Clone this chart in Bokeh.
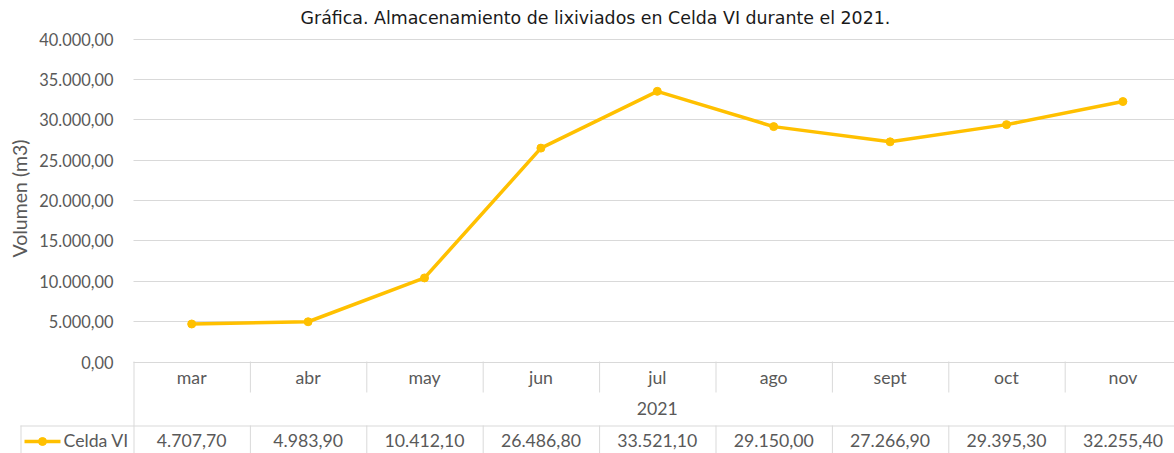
import math
from bokeh.plotting import figure
from bokeh.models import Range1d, FixedTicker, CustomJSTickFormatter, ColumnDataSource
from bokeh.core.properties import value
from bokeh.embed import file_html
from bokeh.resources import INLINE

# ---------------- data ----------------
months = ["mar", "abr", "may", "jun", "jul", "ago", "sept", "oct", "nov"]
volumes = [4707.70, 4983.90, 10412.10, 26486.80, 33521.10, 29150.00, 27266.90, 29395.30, 32255.40]
year_label = "2021"
series_name = "Celda VI"
y_ticks = [0, 5000, 10000, 15000, 20000, 25000, 30000, 35000, 40000]
title_text = "Gráfica. Almacenamiento de lixiviados en Celda VI durante el 2021."
y_label = "Volumen (m3)"

# ---------------- style / geometry ----------------
GOLD = "#FFC000"
GRID = "#D9D9D9"
TXT = "#595959"
FONT = "Lato"
W, H = 1174, 453
CW = 116.4            # px per category
X0 = 133              # canvas px of the first category boundary
ZERO_PX = 361.5       # canvas px of value 0
TOP_PX = 38.5         # canvas px of value 40000
U = 40000 / (ZERO_PX - TOP_PX)   # data units per px (vertical)


def X(px):
    return (px - X0) / CW


def Y(px):
    return (ZERO_PX - px) * U


def fmt(v):
    s = f"{v:,.2f}"
    return s.replace(",", "X").replace(".", ",").replace("X", ".")


n = len(months)
xs = [i + 0.5 for i in range(n)]
src = ColumnDataSource(dict(x=xs, v=volumes, m=months, lab=[fmt(v) for v in volumes]))

x_end = X(W)
p = figure(width=W, height=H, output_backend="svg", toolbar_location=None,
           x_range=Range1d(X(0), x_end), y_range=Range1d(Y(H), Y(0)),
           x_axis_location=None, min_border=0, min_border_left=0, min_border_right=0,
           min_border_top=0, min_border_bottom=0)
p.outline_line_color = None
p.xgrid.visible = False

ax = p.yaxis[0]
ax.fixed_location = 0
ax.ticker = FixedTicker(ticks=y_ticks)
ax.formatter = CustomJSTickFormatter(code="""
const s = tick.toFixed(2);
const parts = s.split('.');
return parts[0].replace(/\\B(?=(\\d{3})+(?!\\d))/g, '.') + ',' + parts[1];
""")
ax.axis_line_color = None
ax.major_tick_line_color = None
ax.minor_tick_line_color = None
ax.major_tick_out = 0
ax.major_tick_in = 0
ax.major_label_standoff = 20
ax.major_label_text_font = FONT
ax.major_label_text_font_size = "16.4px"
ax.major_label_text_color = TXT

p.ygrid.grid_line_color = GRID
p.ygrid.grid_line_width = 1
p.ygrid.cross_bounds = (0, x_end)

# title and axis title
p.text(x=[X(300)], y=[Y(17)], text=[title_text], text_align="left", text_baseline="middle",
       text_font=value("DejaVu Sans"), text_font_size="17.4px", text_color="#1A1A1A")
p.text(x=[X(19)], y=[Y(198)], text=[y_label], angle=math.pi / 2, text_align="center",
       text_baseline="middle", text_font=value(FONT), text_font_size="19.5px", text_color=TXT)

# series
p.line("x", "v", source=src, line_color=GOLD, line_width=3.5, line_join="round")
p.scatter("x", "v", source=src, size=8, fill_color=GOLD, line_color=GOLD)

# ---------------- data table under the plot ----------------
half = 0.5 / CW
# horizontal rule above the value row
p.segment(x0=[X(20)], y0=[Y(425.5)], x1=[x_end], y1=[Y(425.5)], line_color=GRID, line_width=1)
# vertical rules
p.segment(x0=[half, X(20.5)], y0=[Y(361), Y(425)], x1=[half, X(20.5)], y1=[Y(H), Y(H)],
          line_color=GRID, line_width=1)
bx = [k + half for k in range(1, n)]
p.segment(x0=bx, y0=[Y(361)] * (n - 1), x1=bx, y1=[Y(392)] * (n - 1), line_color=GRID, line_width=1)
p.segment(x0=bx, y0=[Y(425)] * (n - 1), x1=bx, y1=[Y(H)] * (n - 1), line_color=GRID, line_width=1)

p.text(x="x", y=Y(377), text="m", source=src, text_align="center", text_baseline="middle",
       text_font=value(FONT), text_font_size="17.7px", text_color=TXT)
p.text(x=[(n - 1) / 2 + 0.5], y=[Y(408)], text=[year_label], text_align="center",
       text_baseline="middle", text_font=value(FONT), text_font_size="17.7px", text_color=TXT)
p.text(x="x", y=Y(440), text="lab", source=src, text_align="center", text_baseline="middle",
       text_font=value(FONT), text_font_size="17.7px", text_color=TXT)

# legend key in the table
p.line(x=[X(24), X(60)], y=[Y(441), Y(441)], line_color=GOLD, line_width=3.5)
p.scatter(x=[X(42)], y=[Y(441)], size=8, fill_color=GOLD, line_color=GOLD)
p.text(x=[X(63)], y=[Y(440)], text=[series_name], text_align="left", text_baseline="middle",
       text_font=value(FONT), text_font_size="17.7px", text_color=TXT)

open("out.html", "w").write(file_html(p, INLINE))
